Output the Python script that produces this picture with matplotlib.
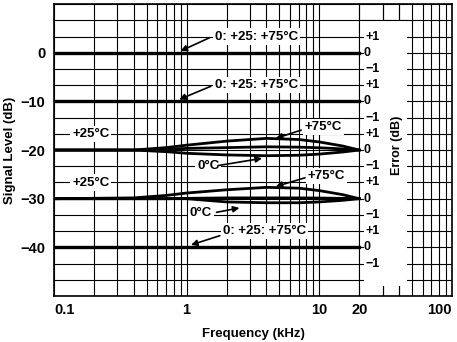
import numpy as np
import matplotlib
matplotlib.use('Agg')
import matplotlib.pyplot as plt
from matplotlib.patches import Rectangle
from matplotlib.ticker import FixedLocator, LogLocator, NullFormatter

plt.rcParams['font.family'] = ['Liberation Sans', 'DejaVu Sans']
plt.rcParams['font.weight'] = 'bold'
plt.rcParams['axes.labelweight'] = 'bold'

# Datos
flat_levels = [0, -10, -40]          # filas planas (0, +25, +75 °C iguales)
f_span = [0.1, 20]                   # kHz

freq = [0.1, 0.4, 0.7, 1, 2, 4, 7, 10, 15, 20]
# error (dB) en la fila de -20 dB
err20_p75 = [0, 0, 0.15, 0.3, 0.55, 0.72, 0.65, 0.5, 0.25, 0]
err20_p25 = [0, 0, 0.05, 0.1, 0.15, 0.2, 0.18, 0.14, 0.07, 0]
err20_0 = [0, 0, -0.1, -0.2, -0.3, -0.35, -0.32, -0.25, -0.12, 0]
# error (dB) en la fila de -30 dB
err30_p75 = [0, 0.05, 0.2, 0.35, 0.55, 0.7, 0.65, 0.5, 0.25, 0]
err30_p25 = [0, 0, 0, 0.02, 0.05, 0.05, 0.05, 0.04, 0.02, 0]
err30_0 = [0, 0, 0, 0, -0.2, -0.25, -0.25, -0.2, -0.1, 0]

rows = [0, -10, -20, -30, -40]
err_scale = 10 / 3                   # 1 dB de error = 10/3 dB de escala

xticks = [0.1, 1, 10, 20, 100]
xticklabels = ['0.1', '1', '10', '20', '100']
yticks = [0, -10, -20, -30, -40]
yticklabels = ['0', '\u221210', '\u221220', '\u221230', '\u221240']

# Gráfica
fig = plt.figure(figsize=[4.57, 3.42], dpi=100)
ax = fig.add_axes([0.118, 0.1345, 0.871, 0.8535])
ax.set_xscale('log')
ax.set_xlim(0.1, 100)
ax.set_ylim(-50, 10)
ax.set_axisbelow(True)

ax.xaxis.set_major_locator(FixedLocator(xticks))
ax.set_xticklabels(xticklabels)
ax.xaxis.set_minor_locator(LogLocator(base=10, subs=np.arange(2, 10), numticks=20))
ax.xaxis.set_minor_formatter(NullFormatter())
ax.set_yticks(yticks)
ax.set_yticklabels(yticklabels)
ax.yaxis.set_minor_locator(FixedLocator(np.arange(-50, 10.01, err_scale)))
ax.grid(which='both', color='black', lw=0.8)
ax.tick_params(which='both', length=0, labelsize=10.5)
ax.tick_params(axis='x', pad=5)
ax.tick_params(axis='y', pad=6)
labs = ax.get_xticklabels()
labs[0].set_ha('left')
labs[-1].set_ha('right')
for s in ax.spines.values():
    s.set_linewidth(1.2)

# Zona blanca de la escala de error
x_box = [20, 45.9]
ax.add_patch(Rectangle((x_box[0], -48), x_box[1] - x_box[0], 48 + 2 * err_scale,
                       facecolor='white', edgecolor='none', zorder=1))
ax.plot(x_box, [2 * err_scale] * 2, color='black', lw=0.8, zorder=1.5)
ax.axvline(20, color='black', lw=0.8, zorder=1.5)
ax.vlines([30, 40], -50, -48, color='black', lw=0.8, zorder=1.5)
ax.vlines([30, 40], 2 * err_scale, 10, color='black', lw=0.8, zorder=1.5)
for lv in np.arange(-50, 10.01, err_scale)[1:-1]:
    if -48 < lv < 2 * err_scale:
        ax.plot([20, 21.5], [lv, lv], color='black', lw=0.8, zorder=1.5)
for r in rows:
    ax.text(22.4, r + err_scale, '+1', fontsize=9, va='center', ha='left', zorder=3)
    ax.text(21.5, r, '0', fontsize=9, va='center', ha='left', zorder=3)
    ax.text(22.4, r - err_scale, '\u22121', fontsize=9, va='center', ha='left', zorder=3)
ax.text(38.5, -19, 'Error (dB)', rotation=90, fontsize=9, va='center', ha='center', zorder=3)

# Curvas
lw = 2.4
for lv in flat_levels:
    ax.plot(f_span, [lv, lv], color='black', lw=lw, zorder=2)
for base, curves in [(-20, [err20_p75, err20_p25, err20_0]),
                     (-30, [err30_p75, err30_p25, err30_0])]:
    for e in curves:
        ax.plot(freq, base + np.array(e) * err_scale, color='black', lw=2.0, zorder=2)

# Etiquetas
box = dict(facecolor='white', edgecolor='none', pad=1.5)
arrow = dict(arrowstyle='-|>', color='black', lw=1.2, mutation_scale=9, shrinkA=0, shrinkB=0)


def label(text, tx, ty, tail=None, tip=None):
    ax.text(tx, ty, text, fontsize=9.5, va='center', ha='left', bbox=box, zorder=3)
    if tail is not None:
        ax.annotate('', xy=tip, xytext=tail, arrowprops=arrow, zorder=3)


label('0: +25: +75\u00b0C', 1.63, 3.33, (1.49, 3.1), (0.9, 0.35))
label('0: +25: +75\u00b0C', 1.63, -6.67, (1.52, -6.9), (0.88, -9.6))
label('0: +25: +75\u00b0C', 1.87, -36.67, (1.78, -37.6), (1.08, -39.5))
label('+25\u00b0C', 0.137, -16.67)
label('+25\u00b0C', 0.137, -26.67)
label('+75\u00b0C', 7.8, -15.3, (7.3, -15.9), (4.7, -17.6))
label('+75\u00b0C', 8.2, -25.3, (7.8, -25.7), (4.7, -27.5))
label('0\u00b0C', 1.2, -23.2, (1.72, -23.2), (3.7, -21.7))
label('0\u00b0C', 1.06, -32.9, (1.68, -32.8), (2.5, -31.9))

ax.set_xlabel('Frequency (kHz)', fontsize=9.5, labelpad=8)
ax.set_ylabel('Signal Level (dB)', fontsize=9.5, labelpad=3)

fig.savefig('out.png', dpi=100)
